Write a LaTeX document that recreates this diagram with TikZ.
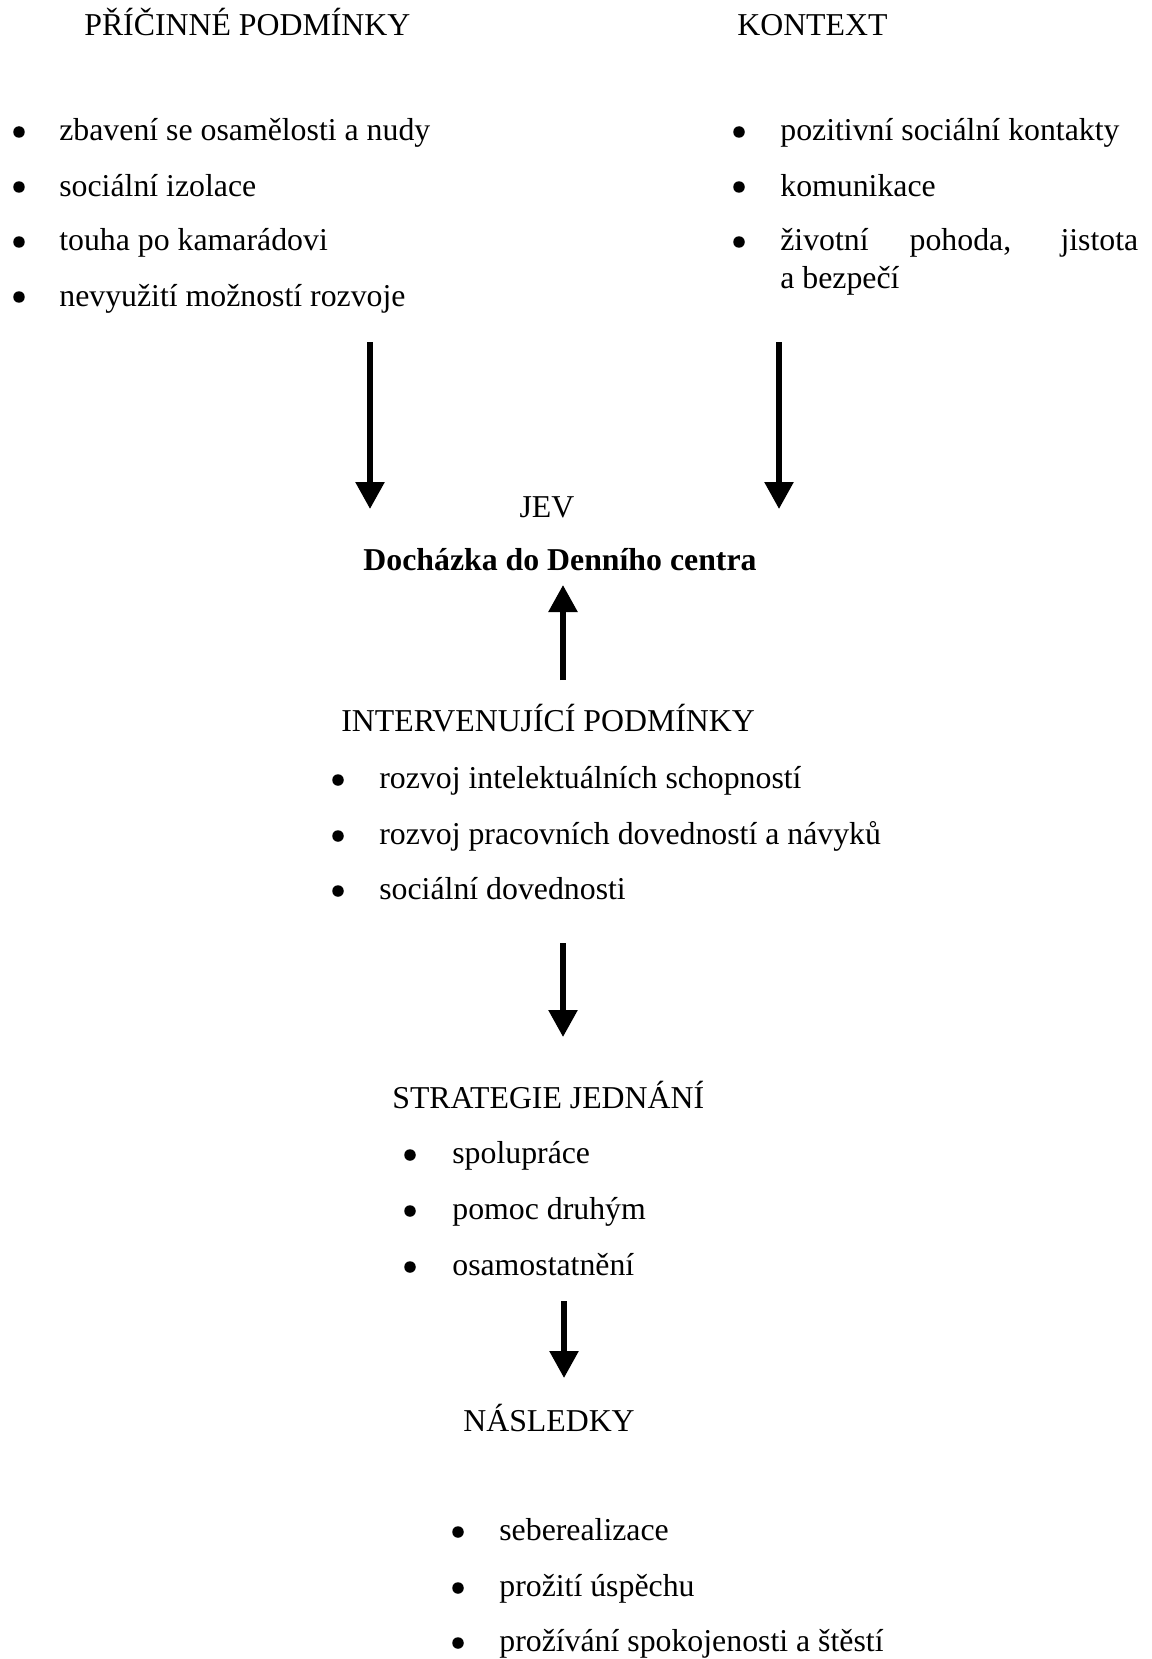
\documentclass[tikz,border=0pt]{standalone}
\usepackage{fontspec}
\setmainfont{Liberation Serif}
\usetikzlibrary{arrows.meta}
\tikzset{
  txt/.style={anchor=base west, inner sep=0pt, font=\fontsize{18.1}{21}\selectfont},
  mid/.style={anchor=base, inner sep=0pt, font=\fontsize{18.1}{21}\selectfont},
  dot/.style={circle, fill, inner sep=0pt, minimum size=0.23cm},
  arr/.style={line width=3.2pt, -{Triangle[width=0.56cm, length=0.54cm]}}
}
\begin{document}
\begin{tikzpicture}[x=0.02cm, y=-0.02cm]
\useasboundingbox (0,0) rectangle (1152,1659);
% headings
\node[txt] (cause) at (84,36) {PŘÍČINNÉ PODMÍNKY};
\node[txt] (context) at (737,36) {KONTEXT};
\node[mid] (jev) at (547,517) {JEV};
\node[mid, font=\fontsize{18.1}{21}\selectfont\bfseries] (dc) at (560,570) {Docházka do Denního centra};
\node[txt] (inter) at (341,731) {INTERVENUJÍCÍ PODMÍNKY};
\node[txt] (strat) at (392,1108) {STRATEGIE JEDNÁNÍ};
\node[txt] (cons) at (463,1431) {NÁSLEDKY};
% causal conditions
\node[dot] (cd1) at (19,132) {};
\node[txt] (c1) at (59,141) {zbavení se osamělosti a nudy};
\node[dot] (cd2) at (19,187) {};
\node[txt] (c2) at (59,196) {sociální izolace};
\node[dot] (cd3) at (19,242) {};
\node[txt] (c3) at (59,251) {touha po kamarádovi};
\node[dot] (cd4) at (19,297) {};
\node[txt] (c4) at (59,306) {nevyužití možností rozvoje};
% context
\node[dot] (kd1) at (739,132) {};
\node[txt] (k1) at (780,141) {pozitivní sociální kontakty};
\node[dot] (kd2) at (739,187) {};
\node[txt] (k2) at (780,196) {komunikace};
\node[dot] (kd3) at (739,242) {};
\node[txt] (k3) at (780,251) {\makebox[7.16cm][s]{životní pohoda, jistota}};
\node[txt] (k3b) at (780,288) {a bezpečí};
% intervening conditions
\node[dot] (id1) at (338,780) {};
\node[txt] (i1) at (379,788) {rozvoj intelektuálních schopností};
\node[dot] (id2) at (338,836) {};
\node[txt] (i2) at (379,844) {rozvoj pracovních dovedností a návyků};
\node[dot] (id3) at (338,891) {};
\node[txt] (i3) at (379,899) {sociální dovednosti};
% strategies
\node[dot] (sd1) at (410,1155) {};
\node[txt] (s1) at (452,1163) {spolupráce};
\node[dot] (sd2) at (410,1211) {};
\node[txt] (s2) at (452,1219) {pomoc druhým};
\node[dot] (sd3) at (410,1267) {};
\node[txt] (s3) at (452,1275) {osamostatnění};
% consequences
\node[dot] (nd1) at (458,1532) {};
\node[txt] (n1) at (499,1540) {seberealizace};
\node[dot] (nd2) at (458,1588) {};
\node[txt] (n2) at (499,1596) {prožití úspěchu};
\node[dot] (nd3) at (458,1643) {};
\node[txt] (n3) at (499,1651) {prožívání spokojenosti a štěstí};
% arrow ends
\coordinate (a1s) at (370,342);
\coordinate (a1e) at (370,509);
\coordinate (a2s) at (779,342);
\coordinate (a2e) at (779,509);
\coordinate (a3s) at (563,680);
\coordinate (a3e) at (563,585);
\coordinate (a4s) at (563,943);
\coordinate (a4e) at (563,1037);
\coordinate (a5s) at (564,1301);
\coordinate (a5e) at (564,1378);
\draw[arr] (a1s) -- (a1e);
\draw[arr] (a2s) -- (a2e);
\draw[arr] (a3s) -- (a3e);
\draw[arr] (a4s) -- (a4e);
\draw[arr] (a5s) -- (a5e);
\end{tikzpicture}
\end{document}
